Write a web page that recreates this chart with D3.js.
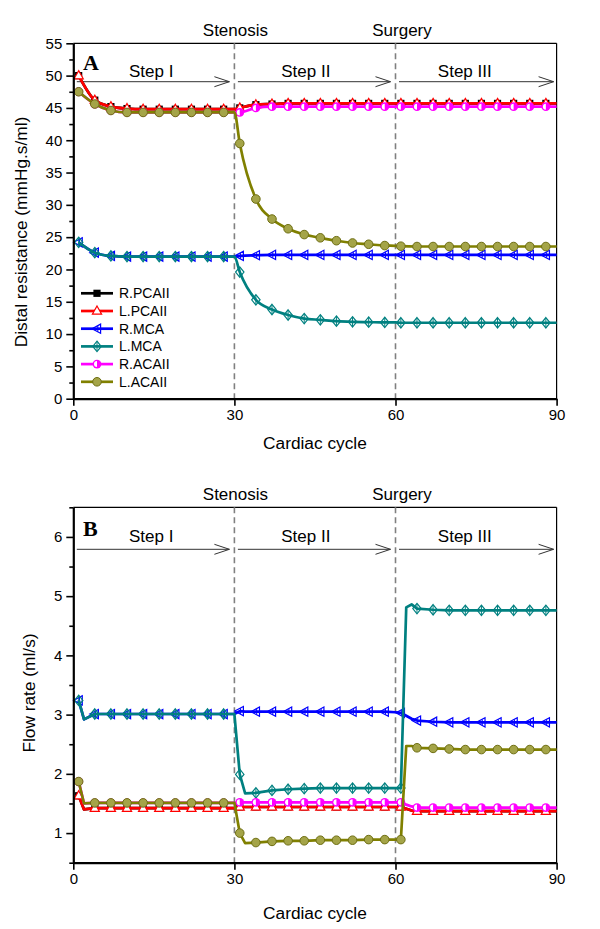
<!DOCTYPE html>
<html><head><meta charset="utf-8">
<script src="https://cdn.jsdelivr.net/npm/d3@7"></script>
<style>
body{margin:0;background:#fff}
svg{display:block}
text{font-family:"Liberation Sans",Arial,sans-serif;fill:#000}
</style>
</head><body><svg id="c" width="600" height="929"></svg>
<script>
// ---------------- DATA ----------------
const seriesNames = ["R.PCAII","L.PCAII","R.MCA","L.MCA","R.ACAII","L.ACAII"];
const seriesColors = ["#000000","#ff0000","#0000ff","#008080","#ff00ff","#808000"];

const xTicks = [0,30,60,90];
const yTicksA = [0,5,10,15,20,25,30,35,40,45,50,55];
const yTicksB = [1,2,3,4,5,6];
const eventCycles = [30,60];
const eventLabels = ["Stenosis","Surgery"];
const stepLabels = ["Step I","Step II","Step III"];
const stepRanges = [[0,30],[30,60],[60,90]];
const stepLabelCycles = [14.5,43.3,72.9];

// Panel A: distal resistance (mmHg.s/ml)
const cyclesA = [1,4,7,10,13,16,19,22,25,28,30,31,34,37,40,43,46,49,52,55,58,60,61,64,67,70,73,76,79,82,85,88,90];
const rPCAII_A = [50.0,46.2,45.2,44.9,44.8,44.8,44.8,44.8,44.8,44.8, 44.8, 45.0,45.5,45.6,45.7,45.7,45.7,45.7,45.7,45.7,45.7, 45.7, 45.7,45.7,45.7,45.7,45.7,45.7,45.7,45.7,45.7,45.7, 45.7];
const lPCAII_A = [50.0,46.2,45.2,44.9,44.8,44.8,44.8,44.8,44.8,44.8, 44.8, 45.0,45.5,45.6,45.7,45.7,45.7,45.7,45.7,45.7,45.7, 45.7, 45.7,45.7,45.7,45.7,45.7,45.7,45.7,45.7,45.7,45.7, 45.7];
const rMCA_A   = [24.2,22.6,22.1,22.0,22.0,22.0,22.0,22.0,22.0,22.0, 22.0, 22.1,22.2,22.25,22.25,22.25,22.25,22.25,22.25,22.25,22.25, 22.25, 22.25,22.25,22.25,22.25,22.25,22.25,22.25,22.25,22.25,22.25, 22.25];
const lMCA_A   = [24.2,22.6,22.1,22.0,22.0,22.0,22.0,22.0,22.0,22.0, 22.0, 19.6,15.3,13.8,12.95,12.4,12.2,12.0,11.9,11.85,11.8, 11.8, 11.75,11.75,11.75,11.75,11.75,11.75,11.75,11.75,11.75,11.75, 11.75];
const rACAII_A = [47.5,45.6,44.6,44.3,44.3,44.3,44.3,44.3,44.3,44.3, 44.3, 44.3,45.0,45.2,45.2,45.2,45.2,45.2,45.2,45.2,45.2, 45.2, 45.2,45.2,45.2,45.2,45.2,45.2,45.2,45.2,45.2,45.2, 45.2];
const lACAII_A = [47.5,45.6,44.6,44.3,44.3,44.3,44.3,44.3,44.3,44.3, 44.3, 39.5,30.9,27.8,26.3,25.4,24.9,24.45,24.1,23.9,23.7, 23.65, 23.6,23.55,23.55,23.55,23.55,23.55,23.55,23.55,23.55,23.55, 23.55];

// Panel B: flow rate (ml/s)
const cyclesB = [1,2,4,7,10,13,16,19,22,25,28,30,31,32,34,37,40,43,46,49,52,55,58,60,61,62,63,64,67,70,73,76,79,82,85,88,90];
const rPCAII_B = [1.63,1.40, 1.42,1.42,1.42,1.42,1.42,1.42,1.42,1.42,1.42, 1.42, 1.44,1.44, 1.44,1.44,1.44,1.44,1.44,1.44,1.44,1.44,1.44, 1.44, 1.44,1.41,1.38, 1.37,1.37,1.37,1.37,1.37,1.37,1.37,1.37,1.37, 1.37];
const lPCAII_B = [1.63,1.40, 1.42,1.42,1.42,1.42,1.42,1.42,1.42,1.42,1.42, 1.42, 1.44,1.44, 1.44,1.44,1.44,1.44,1.44,1.44,1.44,1.44,1.44, 1.44, 1.44,1.41,1.38, 1.37,1.37,1.37,1.37,1.37,1.37,1.37,1.37,1.37, 1.37];
const rMCA_B   = [3.24,2.92, 3.01,3.01,3.01,3.01,3.01,3.01,3.01,3.01,3.01, 3.01, 3.06,3.05, 3.05,3.05,3.05,3.05,3.05,3.05,3.05,3.05,3.05, 3.04, 3.03,2.98,2.93, 2.90,2.88,2.87,2.87,2.87,2.87,2.87,2.87,2.87, 2.87];
const lMCA_B   = [3.24,2.92, 3.01,3.01,3.01,3.01,3.01,3.01,3.01,3.01,3.01, 3.01, 1.99,1.67, 1.68,1.72,1.74,1.75,1.76,1.76,1.76,1.76,1.76, 1.76, 1.76,4.81,4.86, 4.79,4.77,4.76,4.76,4.76,4.76,4.76,4.76,4.76, 4.76];
const rACAII_B = [1.87,1.50, 1.51,1.51,1.51,1.51,1.51,1.51,1.51,1.51,1.51, 1.51, 1.52,1.52, 1.52,1.52,1.52,1.52,1.52,1.52,1.52,1.52,1.52, 1.52, 1.52,1.48,1.45, 1.43,1.43,1.43,1.43,1.43,1.43,1.43,1.43,1.43, 1.43];
const lACAII_B = [1.87,1.50, 1.51,1.51,1.51,1.51,1.51,1.51,1.51,1.51,1.51, 1.51, 1.00,0.83, 0.84,0.86,0.87,0.87,0.88,0.88,0.88,0.89,0.89, 0.89, 0.89,2.47,2.47, 2.44,2.43,2.42,2.41,2.41,2.41,2.41,2.41,2.41, 2.41];

// ---------------- DRAWING ----------------
const svg = d3.select("#c");
const X0 = 73.3, X1 = 556.6;

function drawMarker(g, k, x, y) {
  const c = seriesColors[k];
  const m = g.append("g").attr("transform", `translate(${x},${y})`);
  if (k === 0) {
    m.append("rect").attr("x",-3.6).attr("y",-3.6).attr("width",7.2).attr("height",7.2).attr("fill",c);
  } else if (k === 1) {
    m.append("path").attr("d","M0,-5L4.6,3.2L-4.6,3.2Z").attr("fill","#fff").attr("stroke",c).attr("stroke-width",1.2);
  } else if (k === 2) {
    m.append("path").attr("d","M-5,0L3.6,-4.6L3.6,4.6Z").attr("fill","none").attr("stroke",c).attr("stroke-width",1.2);
    m.append("line").attr("x1",0.8).attr("x2",0.8).attr("y1",-2.8).attr("y2",2.8).attr("stroke",c).attr("stroke-width",1);
  } else if (k === 3) {
    m.append("path").attr("d","M0,-5.2L4.2,0L0,5.2L-4.2,0Z").attr("fill","none").attr("stroke",c).attr("stroke-width",1.2);
    m.append("line").attr("x1",0).attr("x2",0).attr("y1",-4.6).attr("y2",4.6).attr("stroke",c).attr("stroke-width",1);
  } else if (k === 4) {
    m.append("circle").attr("r",4.4).attr("fill",c);
    m.append("path").attr("d","M0,-3A3,3 0 0 0 0,3Z").attr("fill","#fff");
  } else {
    m.append("circle").attr("r",4.3).attr("fill","#a4a448").attr("stroke","#6e6e12").attr("stroke-width",1);
  }
}

function drawPanel(p) {
  const x = d3.scaleLinear().domain([0,90]).range([X0, X1]);
  const y = d3.scaleLinear().domain(p.yDomain).range([p.yBottom, p.yTop]);
  const g = svg.append("g");

  // frame (top & right)
  g.append("line").attr("x1",X0).attr("x2",X1).attr("y1",p.yTop).attr("y2",p.yTop).attr("stroke","#000").attr("stroke-width",1.2);
  g.append("line").attr("x1",X1).attr("x2",X1).attr("y1",p.yTop).attr("y2",p.yBottom).attr("stroke","#000").attr("stroke-width",1.2);

  // event dashed lines
  eventCycles.forEach((c,i) => {
    g.append("line").attr("x1",x(c)).attr("x2",x(c)).attr("y1",p.yTop).attr("y2",p.yBottom)
      .attr("stroke","#808080").attr("stroke-width",1.6).attr("stroke-dasharray","6,4");
    g.append("text").attr("x",x(c) + (i===0?1:6.5)).attr("y",p.eventY).attr("text-anchor","middle")
      .attr("font-size",17).text(eventLabels[i]);
  });

  // step arrows
  stepRanges.forEach((r,i) => {
    const xa = x(r[0]) + 3.5, xb = x(r[1]) - (i===2?3:5);
    g.append("line").attr("x1",xa).attr("x2",xb).attr("y1",p.arrowY).attr("y2",p.arrowY).attr("stroke","#333").attr("stroke-width",1);
    g.append("path").attr("d",`M${xb-15},${p.arrowY-5}L${xb},${p.arrowY}L${xb-15},${p.arrowY+5}`)
      .attr("fill","none").attr("stroke","#333").attr("stroke-width",1);
    g.append("text").attr("x",x(stepLabelCycles[i])).attr("y",p.stepY).attr("text-anchor","middle")
      .attr("font-size",17).text(stepLabels[i]);
  });

  // panel letter
  g.append("text").attr("x",83).attr("y",p.letterY).attr("font-size",22).attr("font-weight","bold")
    .style("font-family","'Liberation Serif','Times New Roman',serif").text(p.letter);

  // series
  const line = d3.line().x((d,i)=>x(p.cycles[i])).y(d=>y(d)).curve(p.curve);
  p.series.forEach((vals,k) => {
    const sg = g.append("g");
    sg.append("path").attr("d", line(vals)).attr("fill","none").attr("stroke",seriesColors[k])
      .attr("stroke-width",2.7).attr("stroke-linejoin","round");
    vals.forEach((v,i) => {
      const c = p.cycles[i];
      if ((c - 1) % 3 === 0 && c <= 88) drawMarker(sg, k, x(c), y(v));
    });
  });

  // axes
  const ax = g.append("g").attr("transform",`translate(${X0},0)`)
    .call(d3.axisLeft(y).tickValues(p.yTicks).tickSize(7).tickSizeOuter(0).tickPadding(4).tickFormat(d3.format("d")));
  ax.select(".domain").attr("stroke-width",2.2);
  ax.selectAll(".tick line").attr("stroke-width",1.6);
  ax.selectAll("text").attr("font-size",15).style("font-family","'Liberation Sans',Arial,sans-serif");
  const minor = p.yTicks.map(t => t - p.minorStep).filter(t => t >= p.yDomain[0]).concat([p.yTicks[p.yTicks.length-1] + p.minorStep]).filter(t => t <= p.yDomain[1] + 1e-9);
  const axm = g.append("g").attr("transform",`translate(${X0},0)`)
    .call(d3.axisLeft(y).tickValues(minor).tickSize(4).tickSizeOuter(0).tickFormat(""));
  axm.select(".domain").remove();
  axm.selectAll(".tick line").attr("stroke-width",1.6);

  const bx = g.append("g").attr("transform",`translate(0,${p.yBottom})`)
    .call(d3.axisBottom(x).tickValues(xTicks).tickSize(7).tickSizeOuter(0).tickPadding(4));
  bx.select(".domain").attr("stroke-width",2.2);
  bx.selectAll(".tick line").attr("stroke-width",1.6);
  bx.selectAll("text").attr("font-size",15).style("font-family","'Liberation Sans',Arial,sans-serif");

  // axis titles
  g.append("text").attr("x",(X0+X1)/2).attr("y",p.xTitleY).attr("text-anchor","middle").attr("font-size",17.3).text("Cardiac cycle");
  g.append("text").attr("transform",`translate(${p.yTitleX},${p.yTitleCY}) rotate(-90)`)
    .attr("text-anchor","middle").attr("font-size",17.3).text(p.yTitle);

  // legend
  if (p.legend) {
    seriesNames.forEach((n,k) => {
      const ly = 293.3 + k*17.7;
      g.append("line").attr("x1",81).attr("x2",113).attr("y1",ly).attr("y2",ly).attr("stroke",seriesColors[k]).attr("stroke-width",2.7);
      drawMarker(g, k, 97, ly);
      g.append("text").attr("x",119).attr("y",ly+5).attr("font-size",14).text(n);
    });
  }
}

drawPanel({
  cycles: cyclesA, series: [rPCAII_A,lPCAII_A,rMCA_A,lMCA_A,rACAII_A,lACAII_A],
  yDomain:[0,55], yTop:43.3, yBottom:398.7, yTicks:yTicksA, minorStep:2.5,
  eventY:36, arrowY:81.7, stepY:77.3, letter:"A", letterY:69.5,
  xTitleY:449, yTitle:"Distal resistance (mmHg.s/ml)", yTitleX:27, yTitleCY:232,
  curve:d3.curveMonotoneX, legend:true
});
drawPanel({
  cycles: cyclesB, series: [rPCAII_B,lPCAII_B,rMCA_B,lMCA_B,rACAII_B,lACAII_B],
  yDomain:[0.5,6.5], yTop:507.3, yBottom:862.7, yTicks:yTicksB, minorStep:0.5,
  eventY:500, arrowY:549.3, stepY:542, letter:"B", letterY:536,
  xTitleY:919, yTitle:"Flow rate (ml/s)", yTitleX:35, yTitleCY:693,
  curve:d3.curveLinear, legend:false
});
</script>
</body></html>
